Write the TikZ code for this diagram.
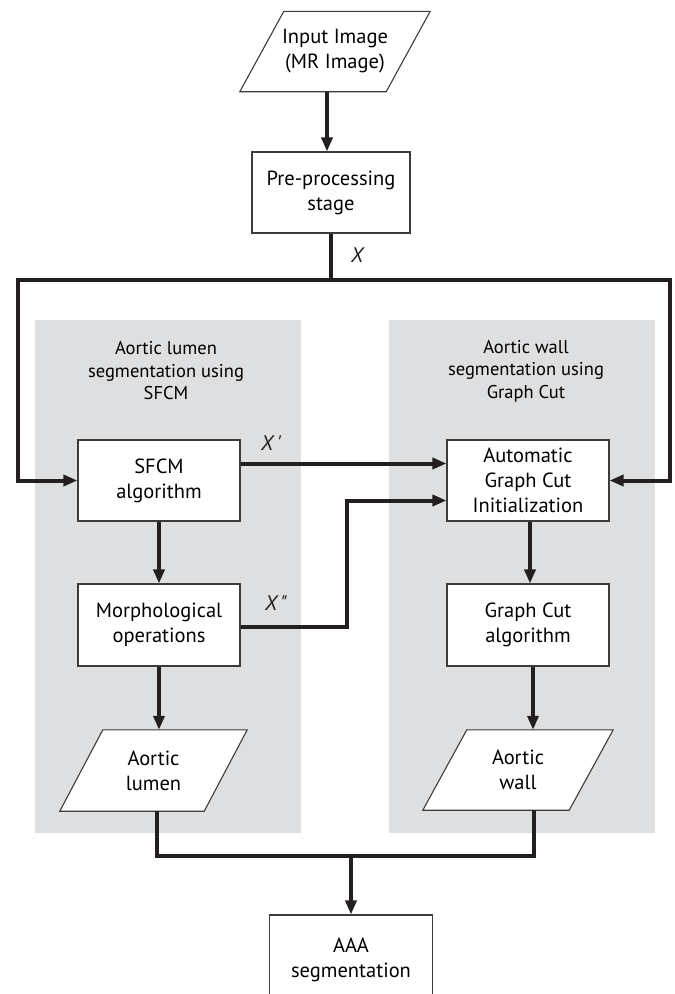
\documentclass[tikz,border=0pt]{standalone}
\usepackage{fontspec}
\setmainfont{PT Sans}
\usetikzlibrary{arrows.meta,backgrounds}
\definecolor{ink}{HTML}{231F20}
\definecolor{panelgray}{HTML}{DEDFE1}
\definecolor{edgegray}{HTML}{3C3C3C}
\newcommand{\bxfont}{\fontsize{20.5}{25}\selectfont}
\newcommand{\ttlfont}{\fontsize{18.5}{22.5}\selectfont}
\newcommand{\lblfont}{\fontsize{21}{25}\selectfont\itshape}
\begin{document}
\begin{tikzpicture}[x=1pt,y=-1pt,
  procbox/.style={draw=edgegray, line width=1.1pt, fill=white, inner sep=0pt, align=center, font=\bxfont},
  paratext/.style={inner sep=0pt, align=center, font=\bxfont},
  paraedge/.style={draw=edgegray, line width=1.1pt, fill=white, line join=miter},
  panelbox/.style={fill=panelgray, inner sep=0pt, minimum width=266pt, minimum height=513pt},
  ttl/.style={inner sep=0pt, align=center, font=\ttlfont},
  lbl/.style={inner sep=0pt, font=\lblfont, text=ink},
  conn/.style={draw=ink, line width=4pt, line join=miter},
  arr/.style={conn, -{Triangle[length=14pt,width=11pt]}}
]
\useasboundingbox (0,0) rectangle (675,994);
\clip (0,0) rectangle (675,994);

% panels
\begin{scope}[on background layer]
\node[panelbox] (panL) at (168,576.5) {};
\node[panelbox] (panR) at (522,576.5) {};
\end{scope}

% nodes
\node[paratext, minimum width=146pt, minimum height=80pt] (input) at (335,51.5) {Input Image\\(MR Image)};
\node[procbox, minimum width=158pt, minimum height=81pt] (pre) at (331,192.5) {Pre-processing\\stage};
\node[procbox, minimum width=162pt, minimum height=81pt] (sfcm) at (159,480.5) {SFCM\\algorithm};
\node[procbox, minimum width=162pt, minimum height=82pt] (morph) at (159,625) {Morphological\\operations};
\node[procbox, minimum width=162pt, minimum height=81pt] (auto) at (528,480.5) {Automatic\\Graph Cut\\Initialization};
\node[procbox, minimum width=162pt, minimum height=82pt] (gc) at (528,625) {Graph Cut\\algorithm};
\node[paratext, minimum width=144pt, minimum height=81pt] (lumen) at (153.5,770.5) {Aortic\\lumen};
\node[paratext, minimum width=146pt, minimum height=80pt] (wall) at (518,770) {Aortic\\wall};
\node[procbox, minimum width=163pt, minimum height=90pt] (aaa) at (351,960) {AAA\\segmentation};

\node[ttl] (tl) at (166,371) {Aortic lumen\\segmentation using\\SFCM};
\node[ttl] (tr) at (526,371) {Aortic wall\\segmentation using\\Graph Cut};

\node[lbl] (xl) at (357,255) {X};
\node[lbl] (xp) at (271,443) {X\,\textquotesingle};
\node[lbl] (xpp) at (276,603) {X\,\textquotedbl};

% parallelogram outlines (behind text)
\begin{scope}[on background layer]
\path[paraedge] ([xshift=22pt]input.north west) -- ([xshift=22pt]input.north east) -- ([xshift=-22pt]input.south east) -- ([xshift=-22pt]input.south west) -- cycle;
\path[paraedge] ([xshift=21.5pt]lumen.north west) -- ([xshift=21.5pt]lumen.north east) -- ([xshift=-21.5pt]lumen.south east) -- ([xshift=-21.5pt]lumen.south west) -- cycle;
\path[paraedge] ([xshift=22pt]wall.north west) -- ([xshift=22pt]wall.north east) -- ([xshift=-22pt]wall.south east) -- ([xshift=-22pt]wall.south west) -- cycle;
\end{scope}

% junction coordinates
\coordinate (lt) at (18,280);
\coordinate (rt) at (670,280);
\coordinate (xj) at (347,500.5);
\coordinate (mj) at (351,856);

% connectors
\draw[arr] ([xshift=-4pt]pre.north |- input.south) -- ([xshift=-4pt]pre.north);
\draw[arr] (pre.south) |- (lt) |- (sfcm.west);
\draw[arr] (pre.south) |- (rt) |- (auto.east);
\draw[arr] ([yshift=17pt]sfcm.east) -- ([yshift=17pt]auto.west);
\draw[arr] ([yshift=-2pt]morph.east) -| (xj) -- ([yshift=-20pt]auto.west);
\draw[arr] (sfcm.south) -- (morph.north);
\draw[arr] (morph.south) -- (morph.south |- lumen.north);
\draw[arr] ([xshift=2pt]auto.south) -- ([xshift=2pt]gc.north);
\draw[arr] ([xshift=5pt]gc.south) -- ([xshift=5pt]gc.south |- wall.north);
\draw[conn] ([xshift=3.5pt]lumen.south) |- (mj);
\draw[conn] ([xshift=16pt]wall.south) |- (mj);
\draw[arr] (mj) -- (aaa.north);
\end{tikzpicture}
\end{document}
